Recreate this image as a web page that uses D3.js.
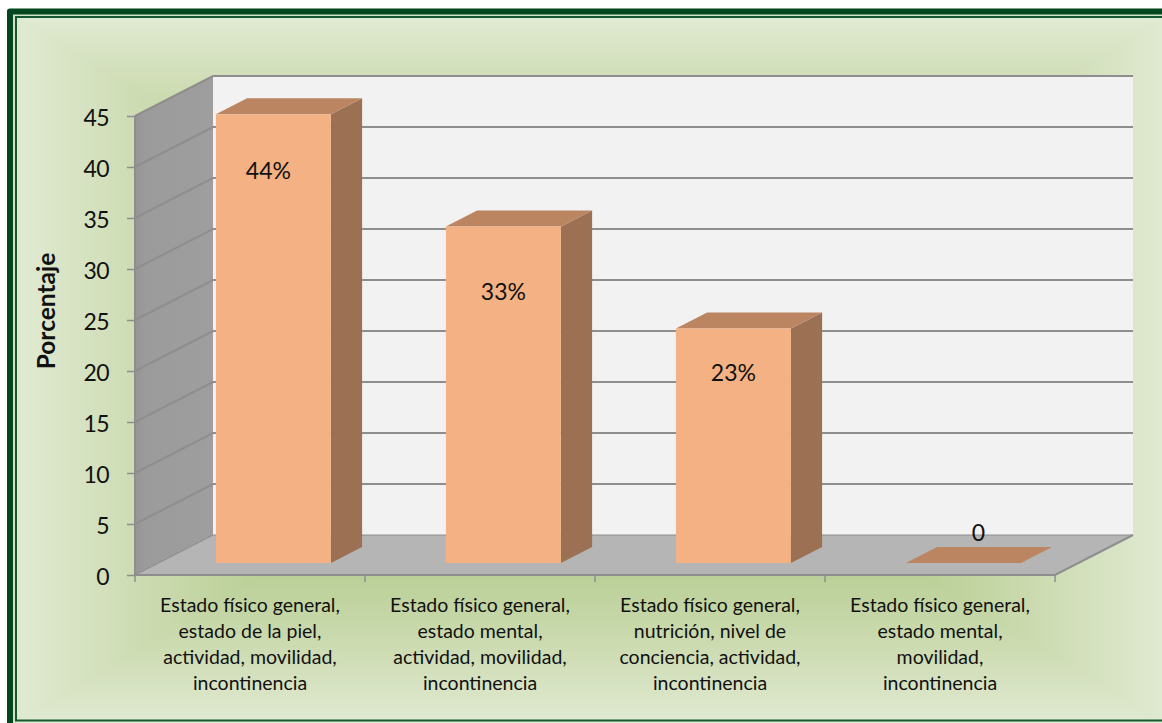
<!DOCTYPE html>
<html>
<head>
<meta charset="utf-8">
<script src="https://cdn.jsdelivr.net/npm/d3@7/dist/d3.min.js"></script>
<style>
  html, body { margin: 0; padding: 0; background: #fff; }
  svg { display: block; }
  text { font-family: Lato, "Open Sans", sans-serif; fill: #111; }
</style>
</head>
<body>
<svg id="chart" width="1162" height="723"></svg>
<script>
// Chart content
const categories = [
  ["Estado físico general,", "estado de la piel,", "actividad, movilidad,", "incontinencia"],
  ["Estado físico general,", "estado mental,", "actividad, movilidad,", "incontinencia"],
  ["Estado físico general,", "nutrición, nivel de", "conciencia, actividad,", "incontinencia"],
  ["Estado físico general,", "estado mental,", "movilidad,", "incontinencia"]
];
const values = [44, 33, 23, 0];
const valueLabels = ["44%", "33%", "23%", "0"];
const yTicks = [0, 5, 10, 15, 20, 25, 30, 35, 40, 45];
const yTitle = "Porcentaje";

// Layout of the pseudo-3D box
const depthX = 78, depthY = 40;
const frontLeft = 135, frontRight = 1055, frontBottom = 575, frontTop = 116;
const barDepthStart = 0.3, barDepthEnd = 0.7;   // fraction of the floor depth used by bars
const labelDrop = [57, 66, 45, -30];            // label centre below the top of each bar
const labelShift = [-5, 0, 0, 15];              // horizontal nudge of each label

const svg = d3.select("#chart");
const idx = d3.range(categories.length);

const x = d3.scaleBand().domain(idx).range([frontLeft, frontRight]).paddingInner(0);
const y = d3.scaleLinear().domain([0, 45]).range([frontBottom, frontTop]);
const barWidth = x.bandwidth() / 2;

// Projects a point (horizontal px on the front plane, value, depth 0..1) to the screen
const project = (px, v, d) => [px + d * depthX, y(v) - d * depthY];
const poly = pts => pts.map(p => p.join(",")).join(" ");

// Pale band lying behind the frame lines
svg.append("rect").attr("x", 7).attr("y", 9).attr("width", 1155).attr("height", 714).attr("fill", "#d4e3c6");

// Panel background: nested rectangles stepping from the rim to the centre
const panel = { x0: 17, y0: 18, x1: 1166, y1: 723 };
const rim = d3.scaleLinear().domain([0, 0.55, 0.8, 1])
  .range(["#b3cb8d", "#b7ce93", "#cedcb3", "#e0ead2"]).interpolate(d3.interpolateRgb);
const steps = d3.range(160, 0, -1).map(i => i / 160);
const cx = (panel.x0 + panel.x1) / 2, cy = (panel.y0 + panel.y1) / 2;
const hw = (panel.x1 - panel.x0) / 2, hh = (panel.y1 - panel.y0) / 2;
svg.append("g").selectAll("rect").data(steps).join("rect")
  .attr("x", t => cx - hw * t).attr("y", t => cy - hh * t)
  .attr("width", t => 2 * hw * t).attr("height", t => 2 * hh * t)
  .attr("fill", t => rim(t));

// Double frame around the panel
const frame = svg.append("g").attr("fill", "none");
frame.append("path").attr("d", "M1162,11.5H10V723").attr("stroke", "#03471f").attr("stroke-width", 6).attr("stroke-linejoin", "round");
frame.append("path").attr("d", "M1162,17H16V720.5H1162").attr("stroke", "#14582f").attr("stroke-width", 2);

// Walls and floor
const wallGrad = svg.append("defs").append("linearGradient").attr("id", "wall")
  .attr("x1", 0).attr("x2", 1).attr("y1", 0).attr("y2", 0);
wallGrad.append("stop").attr("offset", 0).attr("stop-color", "#959595");
wallGrad.append("stop").attr("offset", 0.12).attr("stop-color", "#9b9b9b");
wallGrad.append("stop").attr("offset", 1).attr("stop-color", "#9e9e9e");

const box = svg.append("g");
box.append("polygon")
  .attr("points", poly([project(frontLeft, 45, 1), project(frontRight, 45, 1), project(frontRight, 0, 1), project(frontLeft, 0, 1)]))
  .attr("fill", "#f2f2f2");
box.append("polygon")
  .attr("points", poly([project(frontLeft, 0, 0), project(frontLeft, 45, 0), project(frontLeft, 45, 1), project(frontLeft, 0, 1)]))
  .attr("fill", "url(#wall)");
box.append("polygon")
  .attr("points", poly([project(frontLeft, 0, 0), project(frontRight, 0, 0), project(frontRight, 0, 1), project(frontLeft, 0, 1)]))
  .attr("fill", "#b5b5b5");

// Gridlines run along the left wall and across the back wall
const gridLine = d3.line();
box.append("g").attr("fill", "none").attr("stroke", "#8e8e8e")
  .selectAll("path").data(yTicks).join("path")
  .attr("d", v => gridLine([project(frontLeft, v, 0), project(frontLeft, v, 1), project(frontRight, v, 1)]))
  .attr("stroke-width", v => v === 0 ? 1.2 : 2);

// Outer edges of the box
box.append("path").attr("fill", "none").attr("stroke", "#8e8e8e").attr("stroke-width", 2)
  .attr("d", gridLine([project(frontLeft, 45, 0), project(frontLeft, 0, 0), project(frontRight, 0, 0), project(frontRight, 0, 1)]));

// Axis ticks and labels, taken from d3 axes
const yAxis = svg.append("g").attr("transform", `translate(${frontLeft},0)`)
  .call(d3.axisLeft(y).tickValues(yTicks).tickSize(8).tickPadding(18));
yAxis.select(".domain").remove();
yAxis.selectAll("line").attr("stroke", "#8e8e8e").attr("stroke-width", 1.5);
yAxis.selectAll("text")
  .attr("font-size", 23).attr("dy", "0.42em").style("letter-spacing", "-0.6px")
  .style("font-family", "Lato").attr("fill", "#111");

const xTicks = svg.append("g").attr("stroke", "#8e8e8e").attr("stroke-width", 1.5);
xTicks.selectAll("line").data([...idx.map(i => x(i)), frontRight]).join("line")
  .attr("x1", d => d).attr("x2", d => d)
  .attr("y1", frontBottom).attr("y2", frontBottom + 7);

// Bars: side, top and front faces; a zero value leaves only the top face
const bars = svg.append("g").selectAll("g").data(idx).join("g");
const left = i => x(i) + (x.bandwidth() - barWidth) / 2;
bars.filter(i => values[i] > 0).append("polygon")
  .attr("points", i => poly([
    project(left(i) + barWidth, 0, barDepthStart), project(left(i) + barWidth, 0, barDepthEnd),
    project(left(i) + barWidth, values[i], barDepthEnd), project(left(i) + barWidth, values[i], barDepthStart)]))
  .attr("fill", "#9c7153");
bars.append("polygon")
  .attr("points", i => poly([
    project(left(i), values[i], barDepthStart), project(left(i) + barWidth, values[i], barDepthStart),
    project(left(i) + barWidth, values[i], barDepthEnd), project(left(i), values[i], barDepthEnd)]))
  .attr("fill", "#bb8561");
bars.filter(i => values[i] > 0).append("polygon")
  .attr("points", i => poly([
    project(left(i), 0, barDepthStart), project(left(i) + barWidth, 0, barDepthStart),
    project(left(i) + barWidth, values[i], barDepthStart), project(left(i), values[i], barDepthStart)]))
  .attr("fill", "#f4b183");

// Value labels
bars.append("text")
  .attr("x", i => left(i) + barWidth / 2 + barDepthStart * depthX + labelShift[i])
  .attr("y", i => project(0, values[i], barDepthStart)[1] + labelDrop[i])
  .attr("dy", "0.35em").attr("text-anchor", "middle").attr("font-size", 23)
  .text(i => valueLabels[i]);

// Category labels
const catText = svg.append("g").selectAll("text").data(idx).join("text")
  .attr("text-anchor", "middle").attr("font-size", 19.5)
  .attr("x", i => x(i) + x.bandwidth() / 2);
catText.selectAll("tspan").data(i => categories[i]).join("tspan")
  .attr("x", function () { return d3.select(this.parentNode).attr("x"); })
  .attr("y", (d, k) => 612 + k * 26)
  .text(d => d);

// Vertical axis title
svg.append("text")
  .attr("transform", "translate(55,311) rotate(-90)")
  .attr("text-anchor", "middle").attr("font-size", 24.5).attr("font-weight", 700)
  .text(yTitle);
</script>
</body>
</html>
